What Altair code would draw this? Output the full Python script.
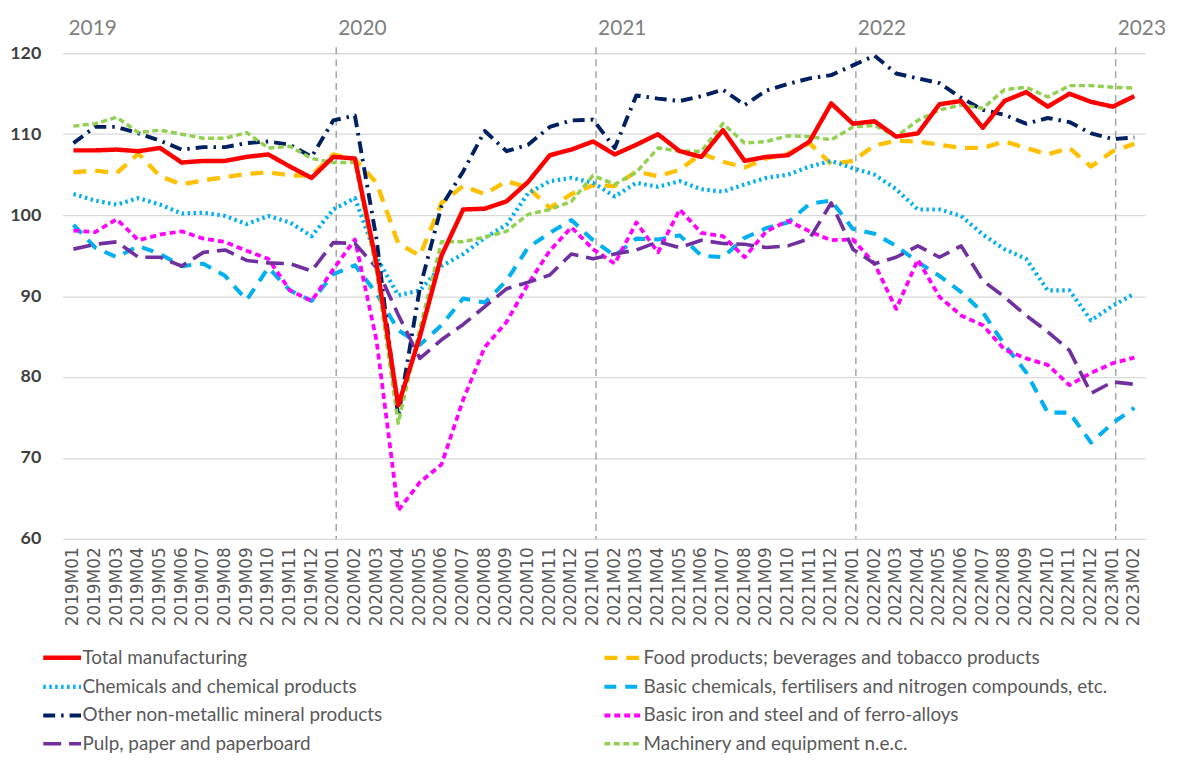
import altair as alt
import pandas as pd

months = [
    "2019M01", "2019M02", "2019M03", "2019M04", "2019M05", "2019M06",
    "2019M07", "2019M08", "2019M09", "2019M10", "2019M11", "2019M12",
    "2020M01", "2020M02", "2020M03", "2020M04", "2020M05", "2020M06",
    "2020M07", "2020M08", "2020M09", "2020M10", "2020M11", "2020M12",
    "2021M01", "2021M02", "2021M03", "2021M04", "2021M05", "2021M06",
    "2021M07", "2021M08", "2021M09", "2021M10", "2021M11", "2021M12",
    "2022M01", "2022M02", "2022M03", "2022M04", "2022M05", "2022M06",
    "2022M07", "2022M08", "2022M09", "2022M10", "2022M11", "2022M12",
    "2023M01", "2023M02",
]

total_manufacturing = [
    108.0, 108.0, 108.1, 107.9, 108.3, 106.5, 106.7, 106.7, 107.2, 107.5, 106.0, 104.6,
    107.2, 107.0, 94.0, 76.5, 85.0, 95.0, 100.7, 100.8, 101.7, 104.1, 107.4, 108.1,
    109.1, 107.5, 108.7, 110.0, 107.9, 107.2, 110.5, 106.7, 107.2, 107.4, 109.1, 113.8,
    111.3, 111.6, 109.7, 110.1, 113.7, 114.1, 110.8, 114.1, 115.2, 113.4, 115.0, 114.0,
    113.4, 114.7,
]
food = [
    105.3, 105.5, 105.2, 107.6, 104.8, 103.8, 104.3, 104.7, 105.1, 105.3, 104.9, 104.9,
    107.5, 106.9, 104.0, 96.5, 95.0, 101.5, 103.6, 102.6, 104.2, 103.4, 100.9, 102.6,
    103.7, 103.6, 105.4, 104.8, 105.6, 107.6, 106.6, 105.9, 107.0, 107.6, 108.9, 106.3,
    106.7, 108.6, 109.2, 109.1, 108.7, 108.3, 108.3, 109.1, 108.3, 107.5, 108.3, 106.0,
    107.9, 108.8,
]
chemicals = [
    102.6, 101.8, 101.3, 102.1, 101.3, 100.2, 100.3, 99.9, 98.9, 99.9, 99.1, 97.4,
    100.7, 102.1, 94.8, 90.1, 90.7, 93.7, 95.2, 97.2, 98.8, 102.7, 104.2, 104.6,
    104.0, 102.3, 104.0, 103.5, 104.2, 103.2, 102.9, 103.8, 104.6, 105.0, 106.0, 106.7,
    105.8, 105.0, 103.2, 100.7, 100.7, 99.9, 97.6, 95.8, 94.6, 90.7, 90.7, 87.0,
    88.8, 90.3,
]
basic_chemicals = [
    98.8, 96.0, 94.8, 96.2, 95.2, 93.7, 94.0, 92.5, 89.5, 93.5, 90.7, 89.4,
    92.7, 93.8, 90.3, 85.8, 84.0, 86.4, 89.7, 89.2, 91.9, 96.0, 97.8, 99.4,
    96.9, 95.0, 97.1, 97.0, 97.5, 95.0, 94.8, 97.2, 98.4, 99.1, 101.4, 101.8,
    98.3, 97.7, 96.2, 94.2, 92.5, 90.5, 88.0, 84.0, 80.6, 75.6, 75.6, 71.9,
    74.3, 76.2,
]
non_metallic = [
    108.9, 110.9, 110.9, 110.1, 109.2, 108.1, 108.4, 108.4, 108.9, 109.1, 108.7, 107.2,
    111.7, 112.3, 97.0, 75.1, 91.0, 101.1, 105.4, 110.4, 107.9, 108.7, 110.9, 111.7,
    111.8, 108.3, 114.8, 114.4, 114.1, 114.7, 115.5, 113.6, 115.4, 116.2, 116.9, 117.3,
    118.5, 119.7, 117.5, 116.9, 116.3, 114.5, 113.0, 112.4, 111.3, 112.0, 111.5, 110.1,
    109.4, 109.6,
]
iron_steel = [
    98.1, 97.9, 99.5, 96.9, 97.6, 98.0, 97.1, 96.7, 95.6, 94.6, 90.7, 89.4,
    93.3, 97.0, 84.5, 63.5, 67.0, 69.2, 77.2, 83.7, 86.8, 91.5, 95.6, 98.5,
    95.8, 94.0, 99.1, 95.4, 100.7, 97.8, 97.4, 94.8, 98.0, 99.3, 98.0, 96.9,
    97.0, 94.0, 88.4, 94.5, 89.9, 87.6, 86.4, 83.4, 82.3, 81.5, 79.0, 80.5,
    81.7, 82.4,
]
pulp_paper = [
    95.8, 96.4, 96.7, 94.8, 94.8, 93.7, 95.4, 95.7, 94.4, 94.1, 94.0, 93.1,
    96.6, 96.5, 93.5, 87.7, 82.3, 84.6, 86.5, 88.7, 90.9, 91.7, 92.6, 95.2,
    94.6, 95.2, 95.7, 96.7, 96.0, 96.9, 96.5, 96.4, 96.0, 96.2, 97.1, 101.5,
    95.8, 94.0, 94.8, 96.2, 94.8, 96.2, 91.9, 89.9, 87.6, 85.6, 83.3, 78.0,
    79.4, 79.1,
]
machinery = [
    111.0, 111.3, 112.1, 110.2, 110.5, 110.0, 109.5, 109.5, 110.2, 108.3, 108.5, 107.0,
    106.5, 106.5, 93.0, 74.3, 86.0, 96.7, 96.7, 97.3, 98.0, 100.1, 100.7, 101.7,
    104.9, 103.8, 105.3, 108.3, 107.9, 107.9, 111.3, 108.9, 109.1, 109.8, 109.7, 109.3,
    110.9, 111.1, 109.7, 111.7, 113.0, 113.6, 113.2, 115.5, 115.8, 114.6, 116.0, 116.0,
    115.8, 115.7,
]

series_names = [
    "Total manufacturing",
    "Food products; beverages and tobacco products",
    "Chemicals and chemical products",
    "Basic chemicals, fertilisers and nitrogen compounds, etc.",
    "Other non-metallic mineral products",
    "Basic iron and steel and of ferro-alloys",
    "Pulp, paper and paperboard",
    "Machinery and equipment n.e.c.",
]
series_values = [
    total_manufacturing, food, chemicals, basic_chemicals,
    non_metallic, iron_steel, pulp_paper, machinery,
]
series_colors = ["#FF0000", "#FFC000", "#00B0F0", "#00B0F0",
                 "#002060", "#FF00FF", "#7030A0", "#92D050"]
series_dashes = [[1, 0], [13, 9], [2.5, 3.5], [12, 9],
                 [12, 6, 2.5, 6], [6, 4], [18, 8], [6, 3.5]]
series_widths = [4.5, 3.5, 3, 3.5, 3, 2.5, 2.5, 2.5]

year_labels = ["2019", "2020", "2021", "2022", "2023"]
year_months = ["2019M01", "2020M01", "2021M01", "2022M01", "2023M01"]

# draw Total manufacturing last so it sits on top
draw_order = [1, 2, 3, 4, 5, 6, 7, 0]
rows = []
for k in draw_order:
    for m, v in zip(months, series_values[k]):
        rows.append({"month": m, "value": v, "series": series_names[k]})
df = pd.DataFrame(rows)

W, H = 1090, 489
x_scale = alt.Scale(domain=months)

x_enc = alt.X("month:O", sort=months, scale=x_scale,
              axis=alt.Axis(title=None, labelAngle=-90, labelFont="DejaVu Sans",
                            labelFontSize=17, labelColor="#595959", labelPadding=8,
                            ticks=False, domain=False, grid=False))

lines = alt.Chart(df).mark_line(strokeJoin="round").encode(
    x=x_enc,
    y=alt.Y("value:Q", scale=alt.Scale(domain=[60, 120], nice=False, zero=False),
            axis=alt.Axis(title=None, values=[60, 70, 80, 90, 100, 110, 120],
                          labelFont="Lato", labelFontSize=18, labelFontWeight="bold",
                          labelColor="#404040", labelPadding=22, ticks=False, tickSize=0,
                          domain=False, grid=True, gridColor="#D9D9D9", gridWidth=1.3)),
    color=alt.Color("series:N", scale=alt.Scale(domain=series_names, range=series_colors),
                    legend=alt.Legend(title=None, orient="none", legendX=-13, legendY=596,
                                      direction="horizontal", columns=2,
                                      columnPadding=213, rowPadding=6.4,
                                      symbolType="M-1.9,0L1.9,0", symbolSize=400,
                                      labelFont="Lato", labelFontSize=19,
                                      labelColor="#595959", labelLimit=700,
                                      labelOffset=8)),
    strokeDash=alt.StrokeDash("series:N",
                              scale=alt.Scale(domain=series_names, range=series_dashes),
                              legend=alt.Legend(title=None)),
    strokeWidth=alt.StrokeWidth("series:N",
                                scale=alt.Scale(domain=series_names, range=series_widths),
                                legend=alt.Legend(title=None)),
)

rule_df = pd.DataFrame({"month": year_months[1:]})
rules = alt.Chart(rule_df).mark_rule(color="#A6A6A6", strokeDash=[7, 5], strokeWidth=1.5,
                                     xOffset=3).encode(
    x=alt.X("month:O", sort=months, scale=x_scale),
    y=alt.value(-6),
    y2=alt.value(H),
)

ylab_df = pd.DataFrame({"month": year_months, "label": year_labels})
first_year = alt.Chart(ylab_df.iloc[:1]).mark_text(
    align="left", baseline="middle", dx=-5, font="Lato", fontSize=21, color="#7F7F7F"
).encode(x=alt.X("month:O", sort=months, scale=x_scale),
         y=alt.value(-24), text="label:N")
other_years = alt.Chart(ylab_df.iloc[1:]).mark_text(
    align="left", baseline="middle", dx=5, font="Lato", fontSize=21, color="#7F7F7F"
).encode(x=alt.X("month:O", sort=months, scale=x_scale),
         y=alt.value(-24), text="label:N")

chart = alt.layer(rules, lines, first_year, other_years).properties(
    width=W, height=H,
    autosize=alt.AutoSizeParams(type="none"),
    padding={"left": 55, "top": 43, "right": 25, "bottom": 214},
).configure_view(stroke=None)

chart.save("out.html", embed_options={"renderer": "svg", "actions": False})
